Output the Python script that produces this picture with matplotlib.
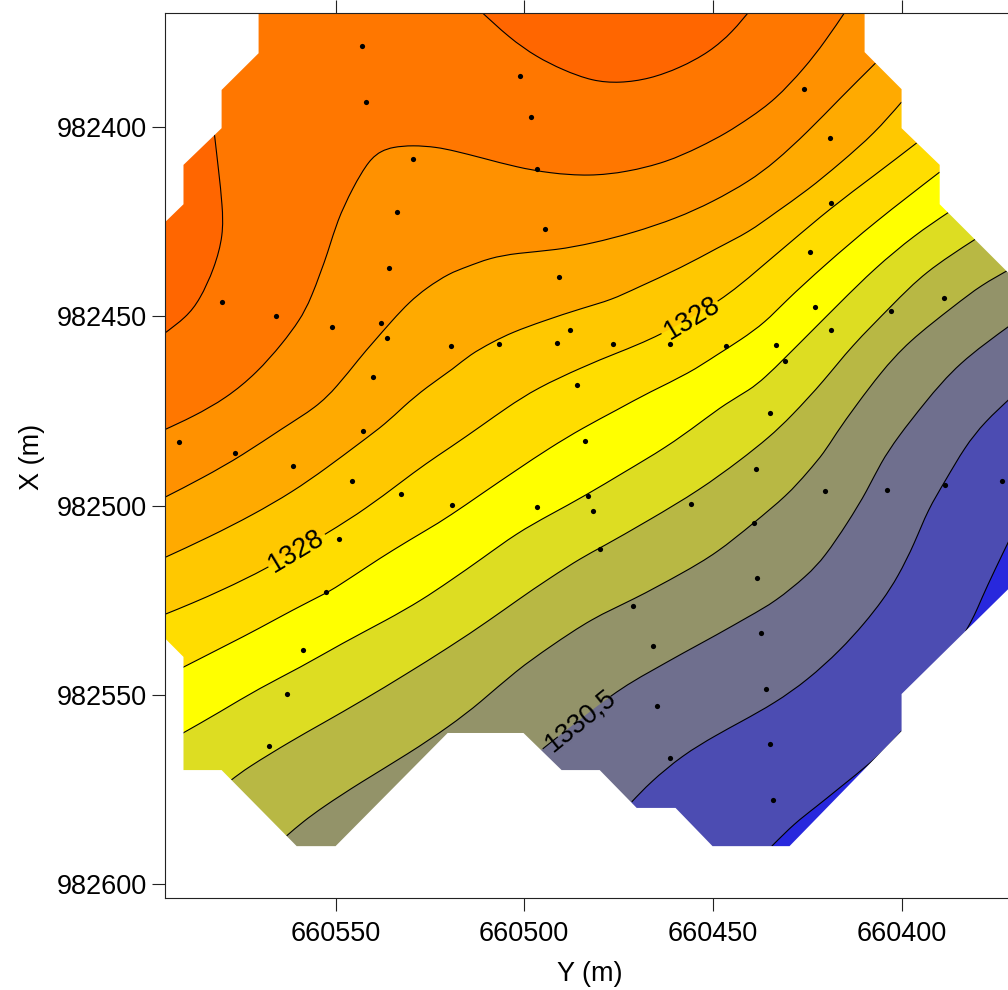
import numpy as np
import matplotlib
matplotlib.use("Agg")
import matplotlib.pyplot as plt
from matplotlib.patches import PathPatch
from matplotlib.path import Path

plt.rcParams['font.family'] = ['Liberation Sans', 'DejaVu Sans']

# all plan coordinates are (Y, X) in metres, relative to these origins
Y0 = 660000
X0 = 982000

x_ticks = [660550, 660500, 660450, 660400]
y_ticks = [982400, 982450, 982500, 982550, 982600]

# sampling points
samples = [
    (543.0, 378.5), (541.9, 393.5), (529.6, 408.5), (533.6, 422.5), (535.8, 437.3), (580.1, 446.3),
    (501.2, 386.6), (498.3, 397.4), (496.5, 411.2), (494.4, 427.0), (490.8, 439.6), (425.8, 389.9),
    (419.1, 402.9), (418.6, 420.1), (424.2, 433.0), (388.8, 445.3), (565.7, 449.8), (551.0, 452.8),
    (537.9, 451.7), (536.3, 455.8), (519.5, 457.9), (540.1, 466.0), (542.6, 480.4), (591.6, 483.2),
    (576.6, 486.0), (561.3, 489.5), (545.7, 493.6), (532.7, 497.0), (519.2, 499.9), (549.0, 508.8),
    (552.5, 522.9), (506.6, 457.4), (491.4, 457.0), (488.0, 453.7), (476.5, 457.4), (461.4, 457.4),
    (446.6, 457.9), (485.9, 468.1), (483.9, 483.0), (496.7, 500.4), (483.1, 497.6), (481.9, 501.5),
    (455.8, 499.5), (479.8, 511.6), (422.9, 447.6), (433.4, 457.6), (418.8, 453.5), (430.8, 461.8),
    (402.9, 448.7), (434.9, 475.6), (438.5, 490.3), (420.4, 496.1), (403.8, 496.0), (388.4, 494.5),
    (373.4, 493.5), (439.2, 504.5), (438.2, 519.2), (558.7, 538.2), (563.0, 549.7), (567.6, 563.6),
    (471.1, 526.6), (465.8, 537.0), (464.7, 552.9), (461.4, 566.7), (437.3, 533.7), (436.0, 548.4),
    (435.0, 563.1), (434.2, 577.8),
]

# outline of the kriged grid
domain = [
    (570.4, 363.8), (409.8, 363.8), (409.8, 380.2), (400.0, 390.0), (400.0, 400.3), (389.9, 410.0),
    (389.9, 420.4), (363.4, 446.8), (363.4, 513.9), (400.0, 549.8), (400.0, 559.6), (429.7, 590.0),
    (450.1, 590.0), (459.9, 579.9), (470.2, 579.9), (480.0, 569.9), (490.1, 569.9), (500.2, 560.1),
    (520.3, 560.1), (550.0, 590.0), (560.3, 590.0), (580.2, 569.9), (590.3, 569.9), (590.3, 540.0),
    (600.1, 530.2), (600.1, 429.9), (590.3, 420.4), (590.3, 410.0), (580.2, 400.3), (580.2, 390.2),
    (570.4, 380.5),
]

# contour lines, each running from south-west to north-east
line_1326_west = [
    (582.1, 401.9), (581.0, 411.4), (580.0, 420.6), (579.7, 428.5), (582.1, 437.3), (586.0, 445.7),
    (589.5, 450.2), (595.6, 454.7),
]
line_1326_north = [
    (512.4, 368.6), (503.9, 376.5), (496.7, 381.5), (489.8, 384.9), (481.9, 387.9), (474.7, 388.4),
    (466.8, 387.3), (458.8, 384.4), (450.9, 380.2), (444.8, 374.9), (439.7, 368.6),
]
line_1326_5 = [
    (595.6, 480.1), (587.9, 476.6), (578.9, 471.6), (570.9, 465.0), (564.0, 457.1), (559.5, 451.0),
    (556.6, 445.7), (551.6, 432.0), (549.7, 425.1), (545.5, 416.1), (541.0, 408.5), (537.8, 406.3),
    (534.9, 405.3), (529.6, 404.8), (523.2, 405.3), (518.5, 406.3), (511.0, 408.2), (502.0, 410.6),
    (493.3, 412.2), (482.7, 413.0), (472.9, 411.9), (462.3, 409.3), (453.5, 405.3), (446.4, 401.6),
    (440.3, 397.6), (433.6, 392.9), (425.7, 384.4), (420.4, 377.6), (414.3, 368.6),
]
line_1327 = [
    (595.6, 498.0), (585.2, 492.7), (574.6, 486.7), (564.0, 479.5), (555.0, 474.0), (549.7, 468.7),
    (543.6, 461.0), (540.2, 457.1), (534.9, 451.0), (530.4, 446.2), (525.9, 442.5), (519.8, 438.6),
    (515.3, 437.0), (509.2, 434.6), (502.0, 433.3), (491.4, 432.5), (481.9, 430.7), (471.3, 428.0),
    (459.6, 424.1), (450.1, 419.8), (440.3, 414.3), (433.6, 409.3), (424.9, 401.3), (416.2, 392.3),
    (406.9, 383.1),
]
line_1327_5 = [
    (595.6, 513.9), (583.4, 508.3), (572.0, 502.5), (561.4, 496.4), (552.4, 490.1), (543.6, 483.5),
    (536.5, 478.2), (532.2, 474.0), (525.9, 468.7), (518.5, 463.7), (514.5, 460.2), (508.4, 456.8),
    (503.1, 454.2), (495.1, 451.3), (484.5, 447.8), (476.9, 445.7), (470.2, 442.5), (458.0, 437.0),
    (449.0, 432.0), (440.3, 427.7), (433.6, 422.7), (424.9, 416.7), (416.2, 409.5), (407.1, 401.6),
    (400.0, 393.4),
]
# the labelled lines are broken where their label sits
line_1328_a = [(595.6, 528.9), (587.9, 525.8), (580.0, 522.3), (568.8, 517.0)]
line_1328_b = [
    (551.6, 507.0), (541.8, 500.7), (533.0, 494.1), (525.9, 488.8), (519.8, 484.8), (511.0, 478.7),
    (504.7, 474.2), (496.7, 469.0), (484.5, 463.4), (475.5, 459.7), (464.7, 455.5),
]
line_1328_c = [
    (447.4, 445.7), (438.2, 437.8), (429.4, 430.4), (418.8, 421.4), (407.1, 412.7), (396.0, 404.2),
]
line_1328_5 = [
    (591.3, 543.2), (578.9, 536.9), (570.1, 532.4), (561.4, 527.6), (552.4, 523.1), (549.7, 521.5),
    (541.8, 516.3), (534.9, 511.8), (525.9, 506.5), (519.8, 502.8), (511.0, 496.7), (502.0, 490.6),
    (493.3, 484.8), (484.5, 479.5), (475.5, 474.8), (466.8, 470.0), (456.2, 465.0), (449.0, 460.2),
    (442.7, 456.3), (436.0, 451.5), (431.0, 446.2), (420.4, 436.5), (407.1, 425.1), (389.9, 411.9),
]
line_1329 = [
    (591.3, 560.6), (580.7, 554.6), (570.1, 548.2), (559.5, 542.9), (548.1, 536.3), (536.5, 530.3),
    (527.2, 525.0), (519.8, 520.0), (511.0, 513.9), (502.0, 507.3), (493.3, 502.5), (483.5, 497.2),
    (473.9, 491.4), (462.3, 484.6), (453.5, 478.2), (446.4, 472.9), (440.3, 469.5), (436.3, 466.3),
    (430.7, 460.8), (424.9, 455.0), (416.4, 446.5), (407.1, 437.3), (396.5, 428.5), (387.5, 422.5),
]
line_1329_5 = [
    (577.6, 572.5), (573.6, 569.4), (561.4, 562.0), (554.2, 558.0), (541.8, 550.9), (532.2, 545.1),
    (519.8, 537.4), (509.2, 530.3), (501.8, 525.0), (493.3, 519.2), (484.5, 513.6), (479.8, 511.2),
    (466.8, 503.8), (453.5, 495.9), (442.7, 488.0), (435.0, 481.9), (429.4, 476.6), (420.4, 466.9),
    (413.5, 458.1), (402.4, 447.0), (393.9, 438.3), (380.4, 429.6),
]
line_1330 = [
    (563.0, 587.3), (558.7, 583.6), (553.4, 579.7), (543.6, 573.3), (530.4, 565.4), (519.8, 558.3),
    (511.8, 552.2), (502.0, 543.5), (493.3, 537.4), (481.9, 529.7), (471.3, 525.0), (458.0, 517.8),
    (449.0, 512.6), (439.2, 504.6), (430.2, 497.2), (424.9, 491.2), (420.4, 485.9), (417.7, 481.4),
    (411.6, 472.9), (405.6, 465.0), (398.4, 456.8), (385.7, 447.0), (379.0, 441.8), (370.8, 437.3),
]
line_1330_5_a = [(495.1, 564.3), (494.0, 563.4)]
line_1330_5_b = [
    (475.5, 548.8), (466.8, 544.0), (458.0, 539.0), (449.0, 534.2), (440.3, 529.2), (433.6, 525.5),
    (424.9, 518.4), (420.4, 513.6), (414.3, 504.6), (409.0, 495.9), (405.6, 488.8), (401.0, 481.9),
    (393.9, 472.9), (385.1, 462.4), (370.8, 452.1),
]
line_1331 = [
    (471.5, 578.3), (466.8, 573.3), (458.0, 565.9), (449.0, 560.6), (442.7, 557.2), (433.6, 552.2),
    (424.9, 546.1), (416.2, 538.2), (409.8, 531.1), (405.0, 525.0), (401.0, 518.9), (396.5, 509.9),
    (393.1, 501.2), (388.3, 493.3), (383.3, 484.6), (378.0, 477.9), (370.8, 471.3),
]
line_1331_5_east = [(383.0, 533.2), (380.6, 528.9), (379.0, 525.0), (375.3, 517.0), (370.8, 507.8)]
line_1331_5_south = [
    (434.4, 590.0), (428.3, 583.9), (423.0, 579.9), (416.2, 574.4), (408.2, 568.0), (403.7, 563.8),
    (400.0, 559.6),
]

# contour labels: text, centre, angle
label_texts = ["1328", "1328", "1330,5"]
label_pos = [(560.3, 512.0), (455.6, 450.5), (485.1, 556.7)]
label_angles = [31, 31, 39]

color_base = "#FF7700"
color_low = "#FF6600"
color_top = "#2828DD"

# level lines that bound a band on their south-east side, with the band's colour
bands = [
    ([line_1326_5], "#FF9100"),
    ([line_1327], "#FFAA00"),
    ([line_1327_5], "#FFC800"),
    ([line_1328_a, line_1328_b, line_1328_c], "#FFDD00"),
    ([line_1328_5], "#FFFF00"),
    ([line_1329], "#DDDD22"),
    ([line_1329_5], "#B8B844"),
    ([line_1330], "#939369"),
    ([line_1330_5_a, line_1330_5_b], "#6F6F8E"),
    ([line_1331], "#4C4CB2"),
]

# points well outside the axes, used to close the band polygons
far_ne = (340, 355)
far_se = (340, 640)
far_sw = (620, 640)
far_nw = (640, 360)


def to_map(points):
    arr = np.array(points, dtype=float)
    arr[:, 0] += Y0
    arr[:, 1] += X0
    return arr


def spline(points):
    # cubic B-spline through the read points, as Bezier vertices (3 per span)
    p = to_map(points)
    p = np.vstack([2 * p[0] - p[1], p, 2 * p[-1] - p[-2]])
    verts = [p[1]]
    for i in range(1, len(p) - 2):
        verts.append((2 * p[i] + p[i + 1]) / 3)
        verts.append((p[i] + 2 * p[i + 1]) / 3)
        verts.append((p[i] + 4 * p[i + 1] + p[i + 2]) / 6)
    return np.array(verts)


def fill_band(pieces, closing, color, zorder):
    whole = [p for piece in pieces for p in piece]
    curve = spline(whole)
    far = to_map(closing)
    verts = np.vstack([curve, far, curve[:1]])
    codes = [Path.MOVETO] + [Path.CURVE4] * (len(curve) - 1) + [Path.LINETO] * len(far) + [Path.CLOSEPOLY]
    ax.add_patch(PathPatch(Path(verts, codes), facecolor=color, edgecolor='none', zorder=zorder))


def stroke(pieces):
    whole = [p for piece in pieces for p in piece]
    curve = spline(whole)
    start = 0
    for piece in pieces:
        part = curve[3 * start:3 * (start + len(piece) - 1) + 1]
        codes = [Path.MOVETO] + [Path.CURVE4] * (len(part) - 1)
        ax.add_patch(PathPatch(Path(part, codes), facecolor='none', edgecolor='black', lw=0.8, zorder=15))
        start += len(piece)


fig = plt.figure(figsize=(10.08, 9.9), dpi=100)
ax = fig.add_axes([165 / 1008, (990 - 898) / 990, (1009.5 - 165) / 1008, (898 - 13.5) / 990])
ax.set_xlim(660595.2, 660371.4)
ax.set_ylim(982603.7, 982370.0)
ax.set_facecolor(color_base)

fill_band([line_1326_west], [(640, 454.7), far_nw], color_low, 2)
fill_band([line_1326_north], [(439.7, 350), (512.4, 350)], color_low, 2)

z = 3
for pieces, color in bands:
    fill_band(pieces, [far_ne, far_se, far_sw], color, z)
    z += 1
fill_band([line_1331_5_east], [far_se], color_top, z)
fill_band([line_1331_5_south], [far_se], color_top, z)

for pieces in [[line_1326_west], [line_1326_north], [line_1326_5], [line_1327], [line_1327_5],
               [line_1328_a, line_1328_b, line_1328_c], [line_1328_5], [line_1329], [line_1329_5],
               [line_1330], [line_1330_5_a, line_1330_5_b], [line_1331],
               [line_1331_5_east], [line_1331_5_south]]:
    stroke(pieces)

# white mask: everything outside the grid outline
hole = to_map(domain)
cx, cy = hole[:, 0] - Y0, hole[:, 1] - X0
area = np.sum(cx * np.roll(cy, -1) - np.roll(cx, -1) * cy)
outer = to_map([far_nw, far_ne, far_se, far_sw])
ox, oy = outer[:, 0] - Y0, outer[:, 1] - X0
if area * np.sum(ox * np.roll(oy, -1) - np.roll(ox, -1) * oy) > 0:
    outer = outer[::-1]
mask = Path.make_compound_path(Path(np.vstack([outer, outer[:1]]), closed=True),
                               Path(np.vstack([hole, hole[:1]]), closed=True))
ax.add_patch(PathPatch(mask, facecolor='white', edgecolor='none', zorder=16))

pts = to_map(samples)
ax.scatter(pts[:, 0], pts[:, 1], s=14, color='black', linewidths=0, zorder=21)

for txt, pos, ang in zip(label_texts, label_pos, label_angles):
    ax.text(pos[0] + Y0, pos[1] + X0, txt, fontsize=19.5, rotation=ang, rotation_mode='anchor',
            ha='center', va='center', color='black', zorder=22)

ax.set_xticks(x_ticks)
ax.set_yticks(y_ticks)
ax.set_xticklabels([str(t) for t in x_ticks])
ax.set_yticklabels([str(t) for t in y_ticks])
ax.tick_params(axis='x', top=True, length=9.4, width=0.8, pad=7.5, labelsize=19.5, color='#222222')
ax.tick_params(axis='y', length=9.4, width=0.8, pad=3.5, labelsize=19.5, color='#222222')
for spine in ax.spines.values():
    spine.set_linewidth(0.8)
    spine.set_color('#222222')
    spine.set_zorder(30)

fig.text(590 / 1008, 1 - 974 / 990, "Y (m)", fontsize=19.5, ha='center', va='center')
fig.text(32 / 1008, 1 - 457 / 990, "X (m)", fontsize=19.5, ha='center', va='center', rotation=90)

fig.savefig("out.png", dpi=100)
